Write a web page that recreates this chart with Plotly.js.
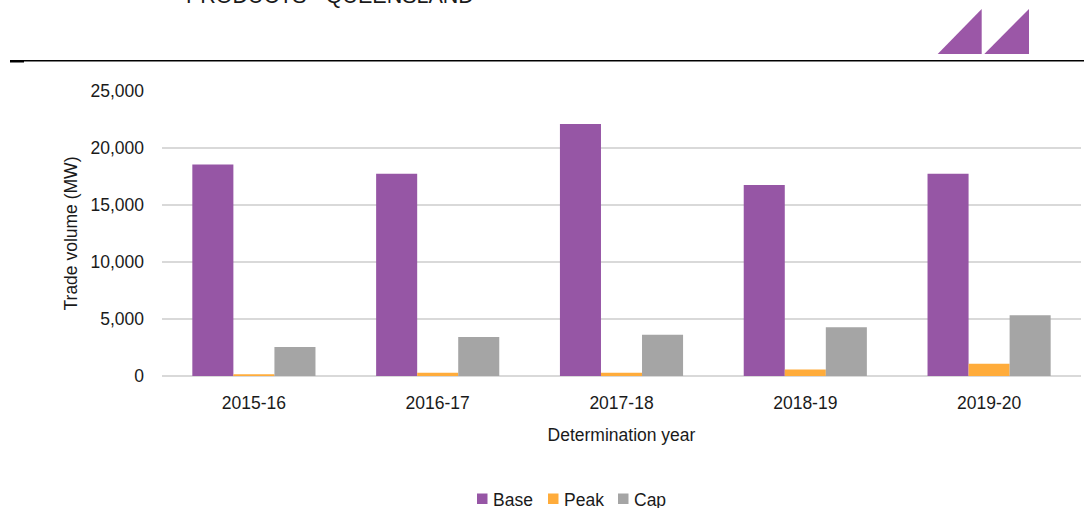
<!DOCTYPE html>
<html>
<head>
<meta charset="utf-8">
<script src="https://cdn.plot.ly/plotly-3.0.1.min.js"></script>
<style>
  html, body { margin: 0; padding: 0; background: #ffffff; }
  #chart { width: 1084px; height: 508px; }
</style>
</head>
<body>
<div id="chart"></div>
<script>
// ---- Data ----
const years = ['2015-16', '2016-17', '2017-18', '2018-19', '2019-20'];
const baseVolume = [18550, 17750, 22100, 16750, 17750];
const peakVolume = [150, 290, 280, 580, 1070];
const capVolume = [2550, 3420, 3620, 4280, 5330];
const seriesNames = ['Base', 'Peak', 'Cap'];

const yTickValues = [0, 5000, 10000, 15000, 20000, 25000];

// ---- Layout constants ----
const W = 1084, H = 508;
const M = { l: 162, r: 3, t: 91, b: 132, autoexpand: false };
const plotW = W - M.l - M.r;
const plotH = H - M.t - M.b;
// helpers to turn page pixels into paper coordinates for decorations
const px = x => (x - M.l) / plotW;
const py = y => (H - M.b - y) / plotH;

const FONT = 'Liberation Sans, Arial, sans-serif';
const TXT = '#1a1a1a';

const colors = ['#9656A5', '#FFAC3B', '#A5A5A5'];
const values = [baseVolume, peakVolume, capVolume];

const traces = seriesNames.map((n, i) => ({
  type: 'bar', name: n, x: years, y: values[i], marker: { color: colors[i] }
}));

function tri(x0, x1, yb, yt) {
  return 'M' + px(x0) + ',' + py(yb) + ' L' + px(x1) + ',' + py(yb) + ' L' + px(x1) + ',' + py(yt) + ' Z';
}

// custom legend (swatch + label) placed under the chart
const legendX = [477, 548, 618];
const legendShapes = seriesNames.map((n, i) => ({
  type: 'rect', xref: 'paper', yref: 'paper',
  x0: px(legendX[i]), x1: px(legendX[i] + 10.5), y0: py(504), y1: py(493.5),
  fillcolor: colors[i], line: { width: 0 }
}));
const legendLabels = seriesNames.map((n, i) => ({
  xref: 'paper', yref: 'paper',
  x: px(legendX[i] + 14), xanchor: 'left',
  y: py(499.5), yanchor: 'middle',
  text: n, showarrow: false,
  font: { family: FONT, size: 17.5, color: TXT }
}));

const layout = {
  width: W, height: H,
  margin: M,
  paper_bgcolor: '#ffffff',
  plot_bgcolor: '#ffffff',
  font: { family: FONT, size: 17.5, color: TXT },
  barmode: 'group',
  bargap: 0.33,
  bargroupgap: 0,
  showlegend: false,
  xaxis: {
    type: 'category',
    showgrid: false,
    showline: false,
    zeroline: false,
    ticks: '',
    ticklabelstandoff: 14,
    tickfont: { family: FONT, size: 17.5, color: TXT },
    title: { text: 'Determination year', font: { family: FONT, size: 17.5, color: TXT }, standoff: 17 }
  },
  yaxis: {
    range: [0, 25000],
    tickvals: yTickValues,
    tickformat: ',d',
    showgrid: true,
    gridcolor: '#d9d9d9',
    gridwidth: 1.5,
    zeroline: true,
    zerolinecolor: '#d9d9d9',
    zerolinewidth: 2,
    showline: false,
    ticks: '',
    ticklabelstandoff: 17,
    tickfont: { family: FONT, size: 17.5, color: TXT },
    title: { text: 'Trade volume (MW)', font: { family: FONT, size: 17.5, color: TXT }, standoff: 8 }
  },
  annotations: [
    {
      xref: 'paper', yref: 'paper',
      x: px(184), xanchor: 'left',
      y: py(10), yanchor: 'bottom',
      text: 'PRODUCTS - QUEENSLAND',
      showarrow: false,
      font: { family: FONT, size: 21.5, color: TXT }
    }
  ].concat(legendLabels),
  shapes: [
    { type: 'line', xref: 'paper', yref: 'paper', x0: px(10), x1: px(1084), y0: py(60.7), y1: py(60.7),
      line: { color: '#000000', width: 1.5 } },
    { type: 'rect', xref: 'paper', yref: 'paper', x0: px(10), x1: px(24), y0: py(60), y1: py(62.5),
      fillcolor: '#000000', line: { width: 0 } },
    { type: 'path', xref: 'paper', yref: 'paper', path: tri(937.7, 981.7, 54, 9),
      fillcolor: '#9B57A7', line: { width: 0 } },
    { type: 'path', xref: 'paper', yref: 'paper', path: tri(984.3, 1029, 54, 9),
      fillcolor: '#9B57A7', line: { width: 0 } }
  ].concat(legendShapes)
};

Plotly.newPlot('chart', traces, layout, { displayModeBar: false, staticPlot: true });
</script>
</body>
</html>
